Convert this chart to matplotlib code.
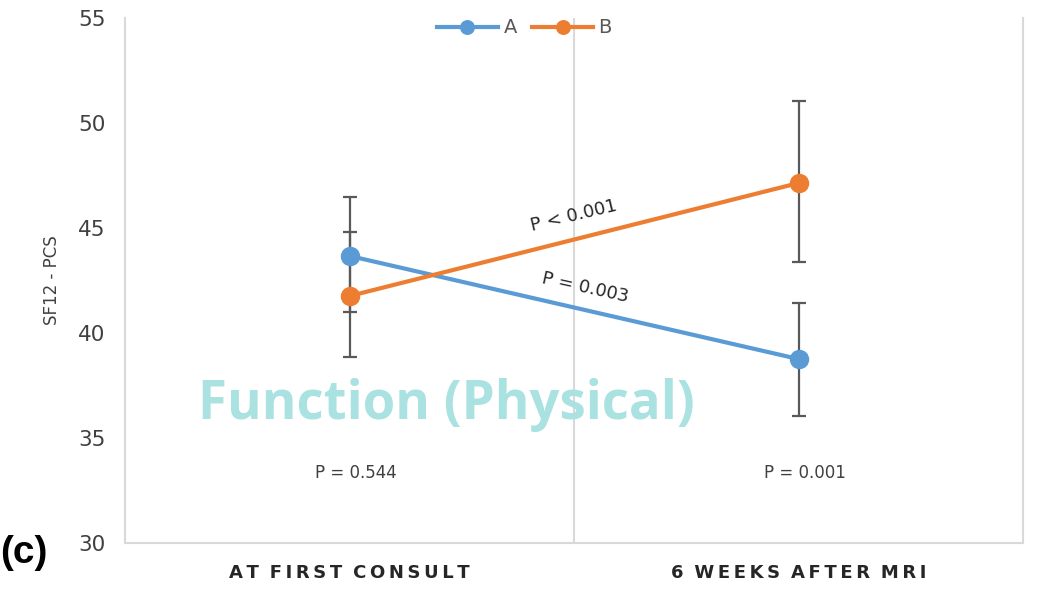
import matplotlib
matplotlib.use("Agg")
import matplotlib.pyplot as plt
import numpy as np

categories = ["AT FIRST CONSULT", "6 WEEKS AFTER MRI"]
series_names = ["A", "B"]
a_values = [43.67, 38.76]
a_err_low = [2.67, 2.71]
a_err_high = [2.81, 2.67]
b_values = [41.76, 47.14]
b_err_low = [2.90, 3.76]
b_err_high = [3.05, 3.91]
yticks = [30, 35, 40, 45, 50, 55]
p_between = ["P = 0.544", "P = 0.001"]
p_within = ["P = 0.003", "P < 0.001"]

blue = "#5B9BD5"
orange = "#ED7D31"
errc = "#595959"
gridc = "#D9D9D9"

fig = plt.figure(figsize=(10.38, 5.91), dpi=100)
ax = fig.add_axes([125/1038, (591-543)/591, (1023-125)/1038, (543-18)/591])

x = np.arange(len(categories))
ax.errorbar(x, a_values, yerr=[a_err_low, a_err_high], fmt="none", ecolor=errc,
            elinewidth=1.6, capsize=5, capthick=1.6, zorder=2)
ax.errorbar(x, b_values, yerr=[b_err_low, b_err_high], fmt="none", ecolor=errc,
            elinewidth=1.6, capsize=5, capthick=1.6, zorder=2)
la, = ax.plot(x, a_values, color=blue, lw=3, marker="o", ms=13, zorder=3, label=series_names[0])
lb, = ax.plot(x, b_values, color=orange, lw=3, marker="o", ms=13, zorder=3, label=series_names[1])

def spaced(s):
    return "\u2009".join(s).replace("\u2009 \u2009", "\u2009\u2009\u2009")

ax.set_xlim(-0.5, 1.5)
ax.set_ylim(30, 55)
ax.set_yticks(yticks)
ax.set_xticks(x)
ax.set_xticklabels([spaced(c) for c in categories], fontsize=13, fontweight="bold",
                   color="#262626")
ax.tick_params(axis="x", length=0, pad=15)
ax.tick_params(axis="y", length=0, labelsize=15.5, colors="#404040", pad=14)
ax.axvline(0.5, color=gridc, lw=1.5, zorder=1)

ax.spines["top"].set_visible(False)
for s in ["left", "right", "bottom"]:
    ax.spines[s].set_color(gridc)
    ax.spines[s].set_linewidth(1.5)

ax.set_ylabel("SF12 - PCS", fontsize=12, color="#404040", labelpad=12)

# P values between groups
for i, t in enumerate(p_between):
    ax.text(x[i] + 0.015, 33.35, t, ha="center", va="center", fontsize=12, color="#404040",
            family="Liberation Sans Narrow")

# P values within groups (rotated along lines)
ax.text(0.525, 42.15, p_within[0], ha="center", va="center", fontsize=13, color="#262626",
        rotation=-12.5, family="Liberation Sans Narrow")
ax.text(0.50, 45.6, p_within[1], ha="center", va="center", fontsize=13, color="#262626",
        rotation=13.5, family="Liberation Sans Narrow")

ax.text(0.215, 36.55, "Function (Physical)", ha="center", va="center", fontsize=38,
        color="#A9E2E0", fontweight="bold", family="Open Sans", zorder=5)

leg = ax.legend(handles=[la, lb], loc="center", bbox_to_anchor=(0.445, 0.981), ncol=2,
                frameon=False, fontsize=14, handlelength=3.1, columnspacing=0.8,
                handletextpad=0.3, markerscale=0.75, borderaxespad=0)
for t in leg.get_texts():
    t.set_color("#595959")

fig.text(0.0, (591-553)/591, "(c)", fontsize=28, fontweight="bold",
         ha="left", va="center", family="Liberation Sans")

fig.savefig("out.png", dpi=100)
